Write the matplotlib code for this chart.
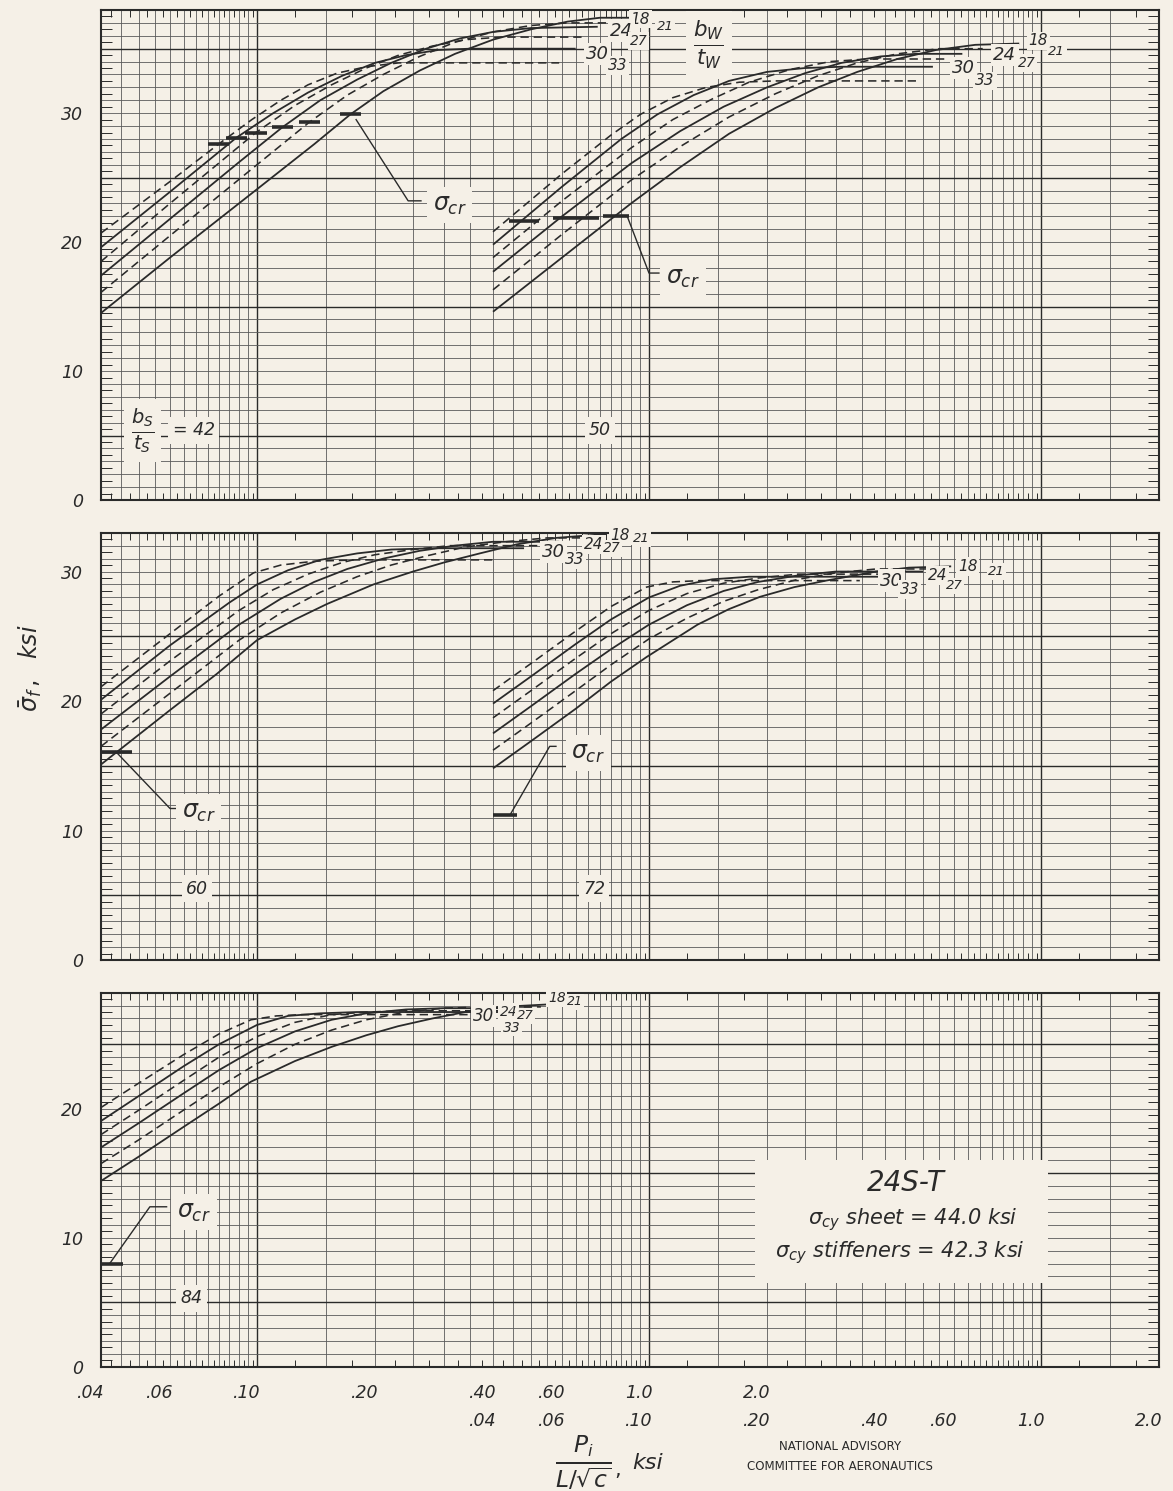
import numpy as np
import matplotlib
matplotlib.use("Agg")
import matplotlib.pyplot as plt
from matplotlib import transforms
from matplotlib.ticker import NullFormatter

PAPER = "#f5f0e7"
INK = "#2a2a2a"
GRID = "#5a5a5a"

plt.rcParams["font.family"] = ["DejaVu Sans"]
plt.rcParams["mathtext.fontset"] = "dejavusans"
plt.rcParams["lines.scale_dashes"] = False

# web width-thickness ratios; 18, 24, 30 drawn solid, the others dashed
BW_TW = [18, 21, 24, 27, 30, 33]
SOLID = (18, 24, 30)

# b_s/t_s = 42, upper scale
x42 = {
    18: [0.04, 0.06, 0.10, 0.14, 0.173, 0.21, 0.26, 0.32, 0.40, 0.50, 0.62, 0.75, 0.89],
    21: [0.04, 0.06, 0.10, 0.136, 0.17, 0.21, 0.26, 0.32, 0.40, 0.50, 0.62, 0.82],
    24: [0.04, 0.06, 0.09, 0.116, 0.145, 0.18, 0.22, 0.27, 0.33, 0.40, 0.50, 0.74],
    27: [0.04, 0.06, 0.0994, 0.125, 0.155, 0.19, 0.23, 0.28, 0.34, 0.42, 0.69],
    30: [0.04, 0.06, 0.0886, 0.11, 0.135, 0.165, 0.20, 0.24, 0.29, 0.35, 0.65],
    33: [0.04, 0.06, 0.0798, 0.097, 0.115, 0.135, 0.16, 0.19, 0.23, 0.59],
}
y42 = {
    18: [14.5, 18.8, 24.1, 27.6, 29.9, 31.7, 33.3, 34.6, 35.7, 36.5, 37.1, 37.4, 37.4],
    21: [16.1, 20.5, 26.0, 29.3, 31.4, 33.0, 34.4, 35.5, 36.3, 36.8, 37.0, 37.0],
    24: [17.4, 21.8, 26.2, 28.9, 31.0, 32.6, 33.9, 35.0, 35.8, 36.3, 36.6, 36.7],
    27: [18.5, 23.0, 28.5, 30.6, 32.2, 33.5, 34.5, 35.2, 35.7, 35.9, 35.9],
    30: [19.6, 23.9, 28.1, 30.0, 31.6, 32.9, 33.9, 34.5, 34.9, 35.0, 35.0],
    33: [20.7, 24.7, 27.6, 29.5, 31.0, 32.2, 33.1, 33.6, 33.9, 33.9],
}
cr42_x = [0.0798, 0.0886, 0.0994, 0.1164, 0.1362, 0.1734]
cr42_y = [27.6, 28.1, 28.5, 28.9, 29.3, 29.9]

# b_s/t_s = 50, lower scale
x50 = {
    18: [0.04, 0.06, 0.09, 0.12, 0.16, 0.21, 0.27, 0.34, 0.43, 0.54, 0.68, 0.88],
    21: [0.04, 0.06, 0.09, 0.12, 0.16, 0.21, 0.27, 0.34, 0.43, 0.55, 0.71],
    24: [0.04, 0.06, 0.09, 0.12, 0.155, 0.20, 0.25, 0.31, 0.39, 0.48, 0.63],
    27: [0.04, 0.06, 0.09, 0.115, 0.145, 0.18, 0.23, 0.29, 0.36, 0.575],
    30: [0.04, 0.06, 0.085, 0.105, 0.13, 0.16, 0.20, 0.25, 0.31, 0.53],
    33: [0.04, 0.06, 0.08, 0.095, 0.115, 0.14, 0.17, 0.21, 0.49],
}
y50 = {
    18: [14.6, 18.8, 23.0, 25.8, 28.4, 30.4, 32.0, 33.2, 34.2, 34.9, 35.3, 35.4],
    21: [16.3, 20.6, 24.8, 27.4, 29.7, 31.5, 32.9, 33.9, 34.6, 35.0, 35.0],
    24: [17.7, 22.0, 26.1, 28.6, 30.5, 32.0, 33.1, 33.9, 34.4, 34.6, 34.6],
    27: [18.8, 23.2, 27.3, 29.5, 31.1, 32.4, 33.4, 34.0, 34.2, 34.2],
    30: [19.8, 24.3, 28.0, 29.9, 31.4, 32.5, 33.2, 33.5, 33.6, 33.6],
    33: [20.8, 25.3, 28.3, 29.9, 31.2, 32.0, 32.4, 32.5, 32.5],
}
# critical-stress marks for b_s/t_s = 50: (start, end, level), lower scale
cr50_x0 = [0.044, 0.057, 0.0765]
cr50_x1 = [0.0525, 0.0745, 0.089]
cr50_y = [21.6, 21.9, 22.0]

# b_s/t_s = 60, upper scale
x60 = {
    18: [0.04, 0.06, 0.079, 0.10, 0.125, 0.151, 0.198, 0.25, 0.30, 0.37, 0.46, 0.58, 0.78],
    21: [0.04, 0.06, 0.09, 0.115, 0.145, 0.18, 0.22, 0.27, 0.34, 0.43, 0.55, 0.75],
    24: [0.04, 0.06, 0.09, 0.115, 0.14, 0.17, 0.21, 0.26, 0.32, 0.40, 0.59],
    27: [0.04, 0.06, 0.09, 0.11, 0.135, 0.165, 0.20, 0.25, 0.31, 0.53],
    30: [0.04, 0.06, 0.085, 0.10, 0.12, 0.145, 0.18, 0.22, 0.28, 0.48],
    33: [0.04, 0.06, 0.08, 0.098, 0.115, 0.14, 0.18, 0.40],
}
y60 = {
    18: [15.1, 19.3, 22.1, 24.7, 26.3, 27.5, 29.0, 30.0, 30.7, 31.4, 32.1, 32.6, 32.9],
    21: [16.5, 20.6, 24.7, 26.8, 28.4, 29.6, 30.5, 31.2, 31.9, 32.3, 32.6, 32.6],
    24: [17.8, 21.9, 25.9, 27.9, 29.2, 30.2, 31.0, 31.6, 32.0, 32.3, 32.3],
    27: [19.0, 23.1, 27.0, 28.6, 29.8, 30.7, 31.3, 31.7, 32.0, 32.0],
    30: [20.1, 24.3, 27.6, 29.0, 30.1, 30.9, 31.4, 31.7, 31.8, 31.8],
    33: [21.1, 25.2, 28.1, 29.9, 30.5, 30.8, 30.9, 30.9],
}
cr60_x = [0.04, 0.048]
cr60_y = 16.1

# b_s/t_s = 72, lower scale
x72 = {
    18: [0.04, 0.05, 0.065, 0.08, 0.0986, 0.133, 0.16, 0.192, 0.235, 0.283, 0.38, 0.46, 0.59],
    21: [0.04, 0.05, 0.065, 0.08, 0.10, 0.125, 0.155, 0.19, 0.24, 0.30, 0.38, 0.55],
    24: [0.04, 0.05, 0.065, 0.08, 0.10, 0.125, 0.155, 0.19, 0.24, 0.30, 0.50],
    27: [0.04, 0.05, 0.065, 0.08, 0.10, 0.125, 0.155, 0.19, 0.24, 0.45],
    30: [0.04, 0.05, 0.065, 0.08, 0.10, 0.12, 0.145, 0.18, 0.40],
    33: [0.04, 0.05, 0.065, 0.08, 0.0986, 0.115, 0.135, 0.345],
}
y72 = {
    18: [14.8, 16.9, 19.4, 21.5, 23.4, 25.9, 27.1, 28.05, 28.8, 29.3, 30.0, 30.3, 30.4],
    21: [16.2, 18.3, 20.8, 22.8, 24.8, 26.4, 27.7, 28.6, 29.4, 29.9, 30.2, 30.2],
    24: [17.5, 19.6, 22.1, 24.0, 25.9, 27.4, 28.5, 29.2, 29.7, 30.0, 30.0],
    27: [18.7, 20.8, 23.3, 25.2, 27.0, 28.3, 29.1, 29.5, 29.8, 29.8],
    30: [19.8, 21.9, 24.4, 26.3, 28.0, 28.9, 29.4, 29.6, 29.6],
    33: [20.8, 22.9, 25.4, 27.3, 28.8, 29.2, 29.3, 29.3],
}
cr72_x = [0.04, 0.046]
cr72_y = 11.2

# b_s/t_s = 84, upper scale
x84 = {
    18: [0.04, 0.05, 0.065, 0.08, 0.0965, 0.125, 0.155, 0.19, 0.229, 0.28, 0.34, 0.42, 0.56],
    21: [0.04, 0.05, 0.065, 0.08, 0.10, 0.125, 0.155, 0.19, 0.24, 0.30, 0.38, 0.53],
    24: [0.04, 0.05, 0.065, 0.08, 0.10, 0.125, 0.155, 0.19, 0.24, 0.30, 0.50],
    27: [0.04, 0.05, 0.065, 0.08, 0.10, 0.125, 0.155, 0.19, 0.24, 0.47],
    30: [0.04, 0.05, 0.065, 0.08, 0.10, 0.12, 0.145, 0.18, 0.43],
    33: [0.04, 0.05, 0.065, 0.08, 0.0965, 0.112, 0.13, 0.16, 0.40],
}
y84 = {
    18: [14.4, 16.3, 18.6, 20.4, 22.1, 23.7, 24.8, 25.7, 26.4, 27.0, 27.5, 27.9, 28.1],
    21: [15.75, 17.6, 19.9, 21.7, 23.5, 25.0, 26.1, 26.9, 27.5, 27.8, 27.9, 27.9],
    24: [17.0, 18.9, 21.2, 23.0, 24.7, 26.0, 26.9, 27.4, 27.7, 27.8, 27.8],
    27: [18.0, 19.9, 22.2, 24.0, 25.6, 26.7, 27.3, 27.5, 27.6, 27.6],
    30: [19.05, 21.0, 23.3, 25.0, 26.5, 27.2, 27.4, 27.5, 27.5],
    33: [20.1, 22.0, 24.2, 25.8, 26.9, 27.2, 27.3, 27.3, 27.3],
}
cr84_x = [0.04, 0.0455]
cr84_y = 8.0

X_TICKS = [0.04, 0.06, 0.10, 0.20, 0.40, 0.60, 1.0, 2.0]
X_TICK_TEXT = [".04", ".06", ".10", ".20", ".40", ".60", "1.0", "2.0"]

# --- layout -----------------------------------------------------------------
W, H = 1173, 1491
fig = plt.figure(figsize=(W / 100, H / 100), dpi=100, facecolor=PAPER)

X0, X1 = 101, 1159          # pixel span of 0.04 .. 20 (upper scale)
panels = [
    # (top px, bottom px, ymax)
    (10, 500, 38),
    (532.7, 960, 33),
    (992.7, 1366.7, 29),
]


def fig_xy(px, py):
    return px / W, 1 - py / H


axes = []
for top, bot, ymax in panels:
    ax = fig.add_axes([X0 / W, 1 - bot / H, (X1 - X0) / W, (bot - top) / H])
    ax.set_facecolor(PAPER)
    ax.set_xscale("log")
    ax.set_xlim(0.04, 20)
    ax.set_ylim(0, ymax)
    axes.append(ax)


def grid_paper(ax, ymax):
    # log paper: rulings at half units inside every decade
    lines = []
    for e in (-2, -1, 0, 1):
        for m in np.arange(1.0, 10.0, 0.5):
            v = m * 10.0 ** e
            if 0.04 < v < 20:
                lines.append(v)
    lines = np.array(lines)
    frac = np.log10(lines) % 1
    heavy = np.isclose(frac, 0) | np.isclose(frac, 1)
    ax.vlines(lines[~heavy], 0, ymax, colors=GRID, lw=0.6, zorder=1)
    ax.vlines(lines[heavy], 0, ymax, colors=INK, lw=1.0, zorder=1)

    # horizontal rulings every ksi, heavier on 5, 15, 25, 35
    ys = np.arange(1, ymax)
    odd5 = (ys % 10) == 5
    ax.hlines(ys[~odd5], 0.04, 20, colors=GRID, lw=0.6, zorder=1)
    ax.hlines(ys[odd5], 0.04, 20, colors=INK, lw=1.0, zorder=1)

    quarter = []
    for e in (-2, -1, 0, 1):
        for m in np.arange(1.0, 10.0, 0.25):
            v = m * 10.0 ** e
            if 0.04 < v < 20 and not np.isclose((m * 2) % 1, 0):
                quarter.append(v)
    ax.set_xticks([])
    ax.set_xticks(quarter, minor=True)
    ax.xaxis.set_major_formatter(NullFormatter())
    ax.xaxis.set_minor_formatter(NullFormatter())
    ax.tick_params(axis="x", which="minor", direction="in", length=5, width=0.7,
                   top=True, bottom=True, color=INK)
    ax.set_yticks(np.arange(0.5, ymax, 1.0), minor=True)
    ax.tick_params(axis="y", which="minor", direction="in", length=8, width=0.7,
                   left=True, right=True, color=INK)
    ticks = list(range(0, ymax, 10))
    ax.set_yticks(ticks)
    ax.set_yticklabels([str(t) for t in ticks], fontstyle="italic", fontsize=12.5,
                       color=INK)
    ax.tick_params(axis="y", which="major", length=0, pad=13)
    for sp in ax.spines.values():
        sp.set_color(INK)
        sp.set_linewidth(1.5)


for ax, (_, _, ymax) in zip(axes, panels):
    grid_paper(ax, ymax)


def family(ax, xs, ys, scale=1.0):
    for r in BW_TW:
        x = np.asarray(xs[r]) * scale
        if r in SOLID:
            ax.plot(x, ys[r], color=INK, lw=1.3, zorder=3, solid_capstyle="butt")
        else:
            ax.plot(x, ys[r], color=INK, lw=1.15, zorder=3, dashes=(6, 3.5))


def mark(ax, x0, x1, y, lw=2.6):
    ax.plot([x0, x1], [y, y], color=INK, lw=lw, zorder=4, solid_capstyle="butt")


BOX = dict(boxstyle="square,pad=0.25", fc=PAPER, ec="none")


def note(ax, x, y, s, size, **kw):
    kw.setdefault("ha", "center")
    kw.setdefault("va", "center")
    ax.text(x, y, s, fontsize=size, color=INK, fontstyle="italic", zorder=6,
            bbox=BOX, **kw)


def leader(ax, xs, ys):
    ax.plot(xs, ys, color=INK, lw=1.0, zorder=4)


def sigma_cr(ax, x, y, size=17):
    note(ax, x, y, r"$\sigma_{cr}$", size)


def end_labels(ax, spots, scale=1.0):
    for (s, x, y, size) in spots:
        ax.text(x * scale, y, s, fontsize=size, color=INK, fontstyle="italic",
                ha="center", va="center", zorder=6,
                bbox=dict(boxstyle="square,pad=0.12", fc=PAPER, ec="none"))


ax_top, ax_mid, ax_bot = axes

# --- top panel: b_s/t_s = 42 and 50 --------------------------------------------
family(ax_top, x42, y42)
family(ax_top, x50, y50, scale=10)
half = 10 ** 0.027
for cx, cy in zip(cr42_x, cr42_y):
    mark(ax_top, cx / half, cx * half, cy)
for a, b, c in zip(cr50_x0, cr50_x1, cr50_y):
    mark(ax_top, a * 10, b * 10, c)
leader(ax_top, [0.179, 0.243, 0.262], [29.5, 23.2, 23.2])
sigma_cr(ax_top, 0.31, 22.9)
leader(ax_top, [0.88, 1.0, 1.06], [cr50_y[-1], 17.6, 17.6])
sigma_cr(ax_top, 1.22, 17.2)

end_labels(ax_top, [("18", 0.95, 37.3, 11), ("21", 1.10, 36.7, 9.5),
                    ("24", 0.85, 36.4, 13), ("27", 0.94, 35.6, 10),
                    ("30", 0.74, 34.6, 13), ("33", 0.83, 33.7, 11)])
note(ax_top, 1.42, 35.3, r"$\frac{b_W}{t_W}$", 22)
end_labels(ax_top, [("18", 0.984, 35.6, 11), ("21", 1.097, 34.8, 9.5),
                    ("24", 0.809, 34.5, 13), ("27", 0.92, 33.9, 10),
                    ("30", 0.634, 33.5, 13), ("33", 0.72, 32.5, 11)], scale=10)
note(ax_top, 0.051, 5.4, r"$\frac{b_S}{t_S}$", 20)
note(ax_top, 0.069, 5.4, "= 42", 12.5)
note(ax_top, 0.75, 5.4, "50", 12.5)

# --- middle panel: b_s/t_s = 60 and 72 -------------------------------------------
family(ax_mid, x60, y60)
family(ax_mid, x72, y72, scale=10)
mark(ax_mid, cr60_x[0], cr60_x[1], cr60_y)
mark(ax_mid, cr72_x[0] * 10, cr72_x[1] * 10, cr72_y)
leader(ax_mid, [0.0436, 0.06, 0.063], [cr60_y, 11.7, 11.7])
sigma_cr(ax_mid, 0.071, 11.4)
leader(ax_mid, [0.442, 0.558, 0.579], [cr72_y, 16.5, 16.5])
sigma_cr(ax_mid, 0.70, 16.0)
end_labels(ax_mid, [("18", 0.844, 32.75, 11), ("21", 0.957, 32.55, 9.5),
                    ("24", 0.721, 32.1, 11), ("27", 0.804, 31.8, 10),
                    ("30", 0.57, 31.5, 13), ("33", 0.647, 30.9, 11)])
end_labels(ax_mid, [("18", 0.65, 30.4, 11), ("21", 0.77, 30.0, 9.5),
                    ("24", 0.545, 29.7, 11), ("27", 0.60, 28.9, 9.5),
                    ("30", 0.416, 29.3, 13), ("33", 0.463, 28.6, 11)], scale=10)
note(ax_mid, 0.0703, 5.5, "60", 12.5)
note(ax_mid, 0.724, 5.5, "72", 12.5)

# --- bottom panel: b_s/t_s = 84 --------------------------------------------------
family(ax_bot, x84, y84)
mark(ax_bot, cr84_x[0], cr84_x[1], cr84_y)
leader(ax_bot, [0.0421, 0.0533, 0.0588], [cr84_y, 12.4, 12.4])
sigma_cr(ax_bot, 0.069, 12.0)
end_labels(ax_bot, [("18", 0.582, 28.6, 10), ("21", 0.647, 28.3, 9),
                    ("24", 0.438, 27.5, 10), ("27", 0.483, 27.2, 9.5),
                    ("30", 0.378, 27.2, 12), ("33", 0.447, 26.3, 10)])
note(ax_bot, 0.0682, 5.3, "84", 12.5)

# material block
ax_bot.add_patch(plt.Rectangle(fig_xy(755, 1283), (1048 - 755) / W, (1283 - 1160) / H,
                               transform=fig.transFigure, fc=PAPER, ec="none",
                               zorder=5))
fig.text(*fig_xy(906, 1183), "24S-T", fontsize=20, fontstyle="italic", color=INK,
         ha="center", va="center", zorder=7)
fig.text(*fig_xy(913, 1220), r"$\sigma_{cy}$ sheet = 44.0 ksi", fontsize=15,
         fontstyle="italic", color=INK, ha="center", va="center", zorder=7)
fig.text(*fig_xy(900, 1253), r"$\sigma_{cy}$ stiffeners = 42.3 ksi", fontsize=15,
         fontstyle="italic", color=INK, ha="center", va="center", zorder=7)

# --- x tick labels: upper scale and the lower scale shifted one decade ----------
shift = transforms.ScaledTranslation(-10 / 100, 0, fig.dpi_scale_trans)
row = transforms.blended_transform_factory(ax_bot.transData, fig.transFigure) + shift
for v, s in zip(X_TICKS, X_TICK_TEXT):
    ax_bot.text(v, 1 - 1393 / H, s, transform=row, fontsize=12.5, fontstyle="italic",
                color=INK, ha="center", va="center", clip_on=False)
    ax_bot.text(v * 10, 1 - 1421 / H, s, transform=row, fontsize=12.5,
                fontstyle="italic", color=INK, ha="center", va="center", clip_on=False)

fig.text(*fig_xy(583, 1463), r"$\frac{P_i}{L/\sqrt{c}}$", fontsize=24, color=INK,
         ha="center", va="center")
fig.text(*fig_xy(618, 1470), ",", fontsize=15, color=INK, ha="center", va="center")
fig.text(*fig_xy(648, 1463), "ksi", fontsize=16, fontstyle="italic", color=INK,
         ha="center", va="center")
fig.text(*fig_xy(30, 668), r"$\bar{\sigma}_f\,,\ \ \mathit{ksi}$", fontsize=17,
         color=INK, rotation=90, ha="center", va="center")

fig.text(*fig_xy(840, 1447), "NATIONAL ADVISORY", fontsize=8.5, color=INK,
         ha="center", va="center")
fig.text(*fig_xy(840, 1467), "COMMITTEE FOR AERONAUTICS", fontsize=8.5, color=INK,
         ha="center", va="center")

fig.savefig("out.png", dpi=100, facecolor=PAPER)
